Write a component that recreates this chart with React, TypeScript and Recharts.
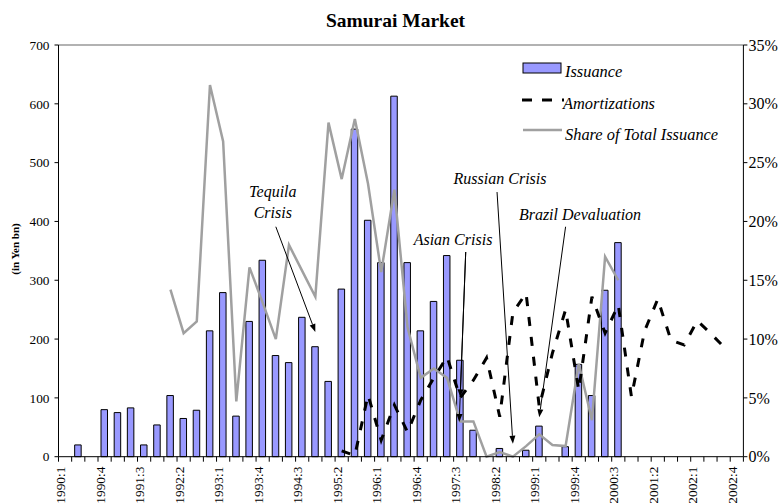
import React from 'react';
import { ComposedChart, Bar, Line, XAxis, YAxis, ReferenceLine, Legend } from 'recharts';

const categories = [
  '1990:1', '1990:2', '1990:3', '1990:4', '1991:1', '1991:2', '1991:3', '1991:4',
  '1992:1', '1992:2', '1992:3', '1992:4', '1993:1', '1993:2', '1993:3', '1993:4',
  '1994:1', '1994:2', '1994:3', '1994:4', '1995:1', '1995:2', '1995:3', '1995:4',
  '1996:1', '1996:2', '1996:3', '1996:4', '1997:1', '1997:2', '1997:3', '1997:4',
  '1998:1', '1998:2', '1998:3', '1998:4', '1999:1', '1999:2', '1999:3', '1999:4',
  '2000:1', '2000:2', '2000:3', '2000:4', '2001:1', '2001:2', '2001:3', '2001:4',
  '2002:1', '2002:2', '2002:3', '2002:4',
];

const issuance = [
  null, 20, null, 80, 75, 83, 20, 54,
  104, 65, 79, 214, 279, 69, 230, 334,
  172, 160, 237, 187, 128, 285, 557, 402,
  330, 613, 330, 214, 264, 342, 164, 45,
  null, 14, null, 11, 52, null, 17, 157,
  104, 283, 364, null, null, null, null, null,
  null, null, null, null,
];

const amortizations = [
  null, null, null, null, null, null, null, null,
  null, null, null, null, null, null, null, null,
  null, null, null, null, null, 10, 2, 105,
  28, 88, 42, 96, 134, 170, 100, 130,
  168, 68, 245, 278, 85, 176, 250, 113,
  272, 210, 258, 102, 214, 268, 198, 190,
  231, 210, 187, null,
];

const shareOfTotal = [
  null, null, null, null, null, null, null, null,
  14.2, 10.5, 11.5, 31.6, 26.8, 4.7, 16.1, 13.1,
  10.0, 18.0, 15.8, 13.6, 28.4, 23.6, 28.7, 23.2,
  15.7, 22.7, 11.0, 6.7, 7.5, 6.7, 3.0, 3.0,
  0, 0.4, 0, 0.9, 1.9, 1.0, 0.9, 7.9,
  3.1, 17.0, 15.0, null, null, null, null, null,
  null, null, null, null,
];

const leftTicks = [0, 100, 200, 300, 400, 500, 600, 700];
const rightTicks = [0, 5, 10, 15, 20, 25, 30, 35];

const data = categories.map((q, i) => ({
  q,
  issuance: issuance[i],
  amort: amortizations[i],
  share: shareOfTotal[i],
}));

const W = 781;
const H = 503;
const M_TOP = 45;
const LEFT_W = 58.5;
const RIGHT_W = 37.6;
const X_H = 46.3;
const PLOT_W = W - LEFT_W - RIGHT_W;
const BAND = PLOT_W / categories.length;

const serif = '"Liberation Serif", "Times New Roman", serif';
const BAR_FILL = '#9999ff';
const SHARE_COLOR = '#a0a0a0';
const DASH = '9 11';

const XTick = (props: any) => {
  const { x, y, index, payload } = props;
  const left = x - BAND / 2;
  const ty = y + 10;
  return (
    <g>
      <line x1={left} y1={y} x2={left} y2={y + 5} stroke="#000" strokeWidth={1} />
      {index === categories.length - 1 && (
        <line x1={x + BAND / 2} y1={y} x2={x + BAND / 2} y2={y + 5} stroke="#000" strokeWidth={1} />
      )}
      {index % 3 === 0 && (
        <text
          x={x}
          y={ty}
          transform={`rotate(-90 ${x} ${ty})`}
          textAnchor="end"
          fontFamily={serif}
          fontSize={13.3}
          fill="#000"
        >
          {payload.value}
        </text>
      )}
    </g>
  );
};

type AnnText = { text: string; dx: number; dy: number };

const makeArrow = (dxTail: number, dxTip: number, texts: AnnText[]) => (p: any) => {
  const x1 = p.x1 + dxTail;
  const y1 = p.y1;
  const x2 = p.x2 + dxTip;
  const y2 = p.y2;
  const ang = Math.atan2(y2 - y1, x2 - x1);
  const L = 8;
  const hw = 3;
  const bx = x2 - L * Math.cos(ang);
  const by = y2 - L * Math.sin(ang);
  const pts = `${x2},${y2} ${bx - hw * Math.sin(ang)},${by + hw * Math.cos(ang)} ${bx + hw * Math.sin(ang)},${by - hw * Math.cos(ang)}`;
  return (
    <g>
      <line x1={x1} y1={y1} x2={bx} y2={by} stroke="#000" strokeWidth={1} />
      <polygon points={pts} fill="#000" />
      {texts.map((t, i) => (
        <text
          key={i}
          x={x1 + t.dx}
          y={y1 + t.dy}
          textAnchor="middle"
          fontFamily={serif}
          fontStyle="italic"
          fontSize={16}
          fill="#000"
        >
          {t.text}
        </text>
      ))}
    </g>
  );
};

const renderLegend = () => (
  <svg width={260} height={100} style={{ display: 'block', overflow: 'visible' }}>
    <rect x={8} y={8} width={38} height={10} fill={BAR_FILL} stroke="#000" strokeWidth={1} />
    <text x={50} y={22} fontFamily={serif} fontStyle="italic" fontSize={16.4} fill="#000">Issuance</text>
    <line x1={7} y1={45} x2={49} y2={45} stroke="#000" strokeWidth={3} strokeDasharray="10 10" />
    <text x={48} y={54} fontFamily={serif} fontStyle="italic" fontSize={16.4} fill="#000">Amortizations</text>
    <line x1={8} y1={75} x2={47} y2={75} stroke={SHARE_COLOR} strokeWidth={2.5} />
    <text x={50} y={84.5} fontFamily={serif} fontStyle="italic" fontSize={16.4} fill="#000">Share of Total Issuance</text>
  </svg>
);

export default function App() {
  return (
    <div style={{ position: 'absolute', left: 0, top: 0, width: W, height: H, background: '#fff' }}>
      <ComposedChart
        width={W}
        height={H}
        data={data}
        margin={{ top: M_TOP, right: 0, bottom: 0, left: 0 }}
        barCategoryGap="50%"
      >
        <XAxis
          dataKey="q"
          xAxisId={0}
          interval={0}
          height={X_H}
          tickLine={false}
          tickSize={0}
          tickMargin={0}
          axisLine={{ stroke: '#000', strokeWidth: 1 }}
          tick={XTick}
        />
        <YAxis
          yAxisId="left"
          orientation="left"
          width={LEFT_W}
          domain={[0, 700]}
          ticks={leftTicks}
          interval={0}
          tickSize={4}
          tickMargin={5}
          axisLine={{ stroke: '#000', strokeWidth: 1 }}
          tickLine={{ stroke: '#000', strokeWidth: 1 }}
          tick={{ fontFamily: serif, fontSize: 13.3, fill: '#000' }}
          label={{
            content: () => (
              <text
                x={18.5}
                y={249}
                transform="rotate(-90 18.5 249)"
                textAnchor="middle"
                fontFamily={serif}
                fontWeight="bold"
                fontSize={11}
                fill="#000"
              >
                (in Yen bn)
              </text>
            ),
          }}
        />
        <YAxis
          yAxisId="right"
          orientation="right"
          width={RIGHT_W}
          domain={[0, 35]}
          ticks={rightTicks}
          interval={0}
          tickSize={4}
          tickMargin={1}
          tickFormatter={(v: number) => `${v}%`}
          axisLine={{ stroke: '#000', strokeWidth: 1 }}
          tickLine={{ stroke: '#000', strokeWidth: 1 }}
          tick={{ fontFamily: serif, fontSize: 16, fill: '#000' }}
        />
        <ReferenceLine yAxisId="left" y={700} stroke="#999" strokeWidth={1.5} />
        <Bar
          yAxisId="left"
          dataKey="issuance"
          name="Issuance"
          fill={BAR_FILL}
          stroke="#000"
          strokeWidth={1}
          barSize={6.5}
          isAnimationActive={false}
        />
        <Line
          yAxisId="right"
          dataKey="share"
          name="Share of Total Issuance"
          stroke={SHARE_COLOR}
          strokeWidth={2.5}
          dot={false}
          activeDot={false}
          isAnimationActive={false}
        />
        <Line
          yAxisId="left"
          dataKey="amort"
          name="Amortizations"
          stroke="#000"
          strokeWidth={3}
          strokeDasharray={DASH}
          dot={false}
          activeDot={false}
          isAnimationActive={false}
        />
        <ReferenceLine
          yAxisId="left"
          segment={[{ x: '1994:1', y: 391 }, { x: '1994:4', y: 212 }]}
          shape={makeArrow(0, 0, [
            { text: 'Tequila', dx: -3, dy: -30 },
            { text: 'Crisis', dx: -3, dy: -9 },
          ])}
        />
        <ReferenceLine
          yAxisId="left"
          segment={[{ x: '1997:3', y: 348 }, { x: '1997:3', y: 101 }]}
          shape={makeArrow(5.5, 0, [{ text: 'Asian Crisis', dx: -12.7, dy: -7 }])}
        />
        <ReferenceLine
          yAxisId="left"
          segment={[{ x: '1997:3', y: 348 }, { x: '1997:3', y: 59 }]}
          shape={makeArrow(5.5, -1, [])}
        />
        <ReferenceLine
          yAxisId="left"
          segment={[{ x: '1998:2', y: 450 }, { x: '1998:3', y: 22 }]}
          shape={makeArrow(-2.7, 0, [{ text: 'Russian Crisis', dx: 3, dy: -8 }])}
        />
        <ReferenceLine
          yAxisId="left"
          segment={[{ x: '1999:3', y: 391 }, { x: '1999:1', y: 67 }]}
          shape={makeArrow(0, 0, [{ text: 'Brazil Devaluation', dx: 14.4, dy: -7 }])}
        />
        <Legend
          verticalAlign="middle"
          layout="horizontal"
          content={renderLegend}
          wrapperStyle={{ left: 515, top: 55, width: 260, height: 100 }}
        />
      </ComposedChart>
      <svg
        width={W}
        height={40}
        style={{ position: 'absolute', left: 0, top: 0, pointerEvents: 'none' }}
      >
        <text x={395.5} y={27} textAnchor="middle" fontFamily={serif} fontWeight="bold" fontSize={19.5} fill="#000">
          Samurai Market
        </text>
      </svg>
    </div>
  );
}
